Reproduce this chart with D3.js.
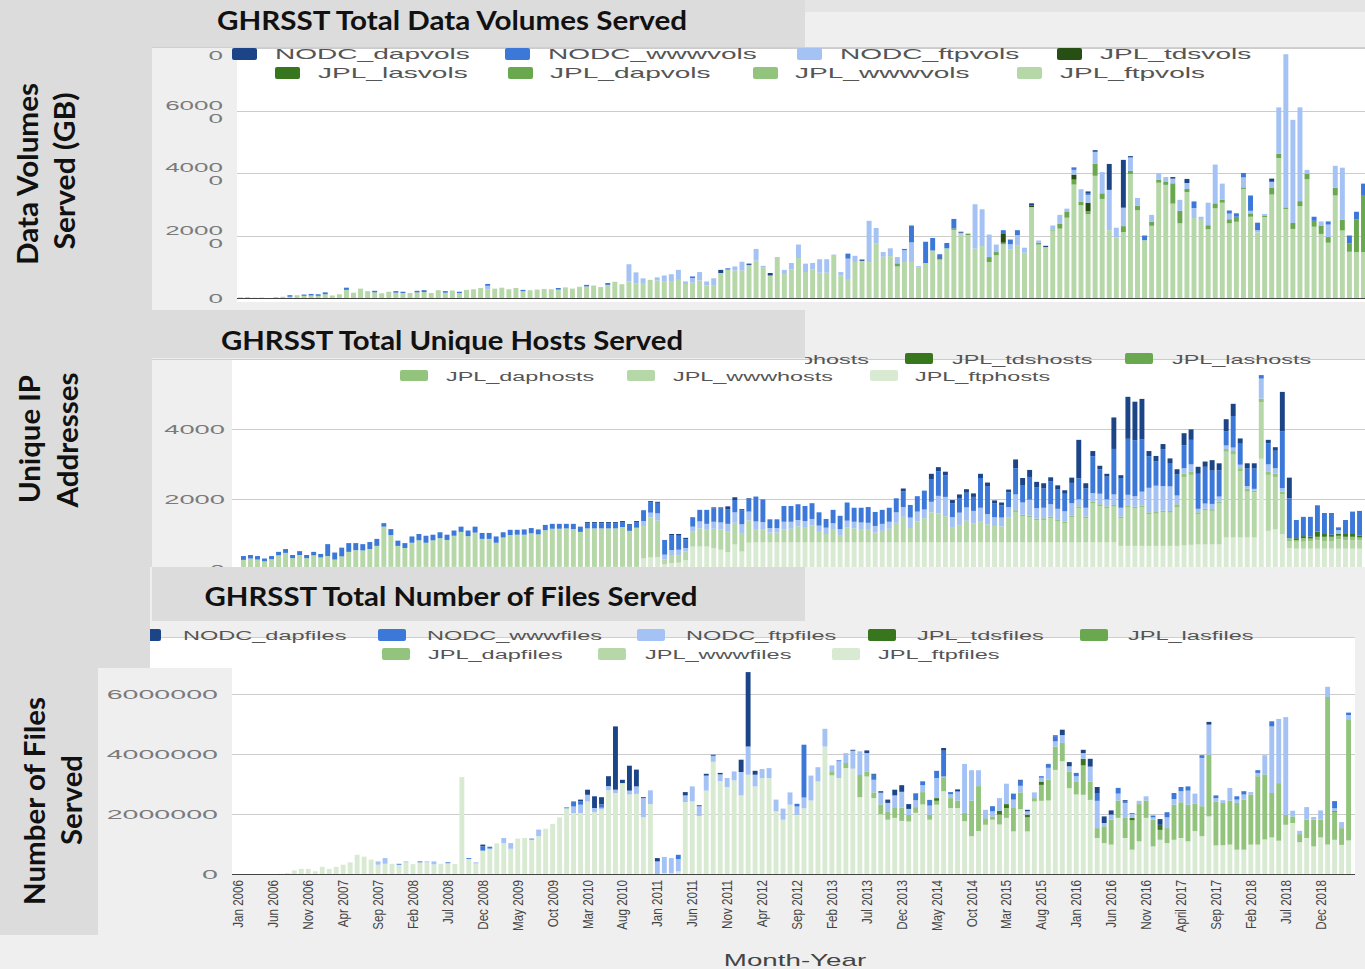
<!DOCTYPE html>
<html>
<head>
<meta charset="utf-8">
<script src="https://cdn.jsdelivr.net/npm/d3@7"></script>
<style>
  body { margin: 0; background: #efefef; }
  svg { display: block; }
  text { font-family: 'Liberation Sans', Arial, sans-serif; }
</style>
</head>
<body>
<svg id="chart" width="1365" height="969"></svg>
<script>
// ---------- categories ----------
const months = d3.timeMonths(new Date(2006, 0, 1), new Date(2019, 4, 1)); // Jan 2006 .. Apr 2019
const xTickLabels = ['Jan 2006', 'Jun 2006', 'Nov 2006', 'Apr 2007', 'Sep 2007', 'Feb 2008', 'Jul 2008',
  'Dec 2008', 'May 2009', 'Oct 2009', 'Mar 2010', 'Aug 2010', 'Jan 2011', 'Jun 2011', 'Nov 2011',
  'Apr 2012', 'Sep 2012', 'Feb 2013', 'Jul 2013', 'Dec 2013', 'May 2014', 'Oct 2014', 'Mar 2015',
  'Aug 2015', 'Jan 2016', 'Jun 2016', 'Nov 2016', 'April 2017', 'Sep 2017', 'Feb 2018', 'Jul 2018', 'Dec 2018'];

// ---------- data volumes (GB) ----------
const volJplFtp = [
  200, 300, 100, 150, 0, 300, 400, 400, 900, 700,
  800, 700, 1200, 800, 1200, 2600, 1700, 3000, 2200, 1800,
  1500, 2000, 1700, 1600, 1600, 1800, 1900, 1600, 2500, 1700,
  2400, 1600, 2600, 2800, 3200, 2700, 3000, 3300, 2800, 3200,
  2200, 2500, 2700, 2900, 2800, 2700, 3400, 3000, 3600, 3700,
  4000, 3500, 4200, 5200, 4400, 5300, 4700, 4800, 5800, 5600,
  5400, 5200, 5800, 4500, 4900,
  5600, 4000, 3900, 8000, 9100, 8800, 8800, 10200, 12000, 9900,
  7200, 13100, 7700, 9200, 12800, 8300, 9200, 8100, 8100, 13500,
  7300, 5800, 11500, 11900, 11500, 17400, 13200, 13400, 10100, 11500,
  11500, 9700, 11200, 15200, 12400, 15900, 21800, 20300, 20100, 15800,
  16600, 11500, 13700, 17200, 15500, 16900, 14500, 29100, 17100, 16300,
  21600, 22200, 25700, 36300, 29700, 26800, 39100, 31700, 21700, 19400,
  21100, 39700, 28100, 18500, 23100, 36900, 36200, 30200, 23900, 33900,
  25600, 25000, 22000, 28700, 30500, 23900, 24400, 34900, 26000, 21000,
  25900, 33100, 44800, 28500, 22100, 29400, 38000, 22800, 20500, 17700,
  32800, 21600, 14800, 14700, 14700];
const volJplDap = [
  0, 0, 0, 0, 0, 0, 0, 0, 0, 0, 0, 0, 0, 0, 0, 0, 0, 0, 0, 0,
  0, 0, 0, 0, 0, 0, 0, 0, 0, 0, 0, 0, 0, 0, 0, 0, 0, 0, 0, 0,
  0, 0, 0, 0, 0, 0, 0, 0, 0, 0, 0, 0, 0, 0, 0, 0, 0, 0, 0, 0,
  0, 0, 0, 0, 0,
  0, 0, 0, 0, 0, 0, 0, 0, 0, 0,
  0, 0, 0, 0, 0, 0, 0, 0, 0, 0,
  0, 0, 0, 0, 0, 0, 0, 0, 1000, 0,
  0, 0, 0, 0, 0, 0, 500, 0, 500, 0,
  0, 1600, 1000, 500, 0, 0, 0, 0, 600, 0,
  300, 1500, 2000, 1600, 1100, 1000, 3900, 1800, 0, 0,
  1900, 1000, 1400, 0, 1300, 900, 1100, 6500, 4000, 1000,
  0, 0, 1300, 1600, 900, 1300, 1600, 500, 1100, 0,
  500, 2100, 1400, 500, 1900, 1600, 1800, 1900, 2700, 1800,
  2500, 3400, 2600, 10400, 18000];
const volJplTds = [
  0, 0, 0, 0, 0, 0, 0, 0, 0, 0, 0, 0, 0, 0, 0, 0, 0, 0, 0, 0,
  0, 0, 0, 0, 0, 0, 0, 0, 0, 0, 0, 0, 0, 0, 0, 0, 0, 0, 0, 0,
  0, 0, 0, 0, 0, 0, 0, 0, 0, 0, 0, 0, 0, 0, 0, 0, 0, 0, 0, 0,
  0, 0, 0, 0, 0,
  0, 0, 0, 0, 0, 0, 0, 0, 0, 0,
  0, 0, 0, 0, 0, 0, 0, 0, 0, 0,
  0, 0, 0, 0, 0, 0, 0, 0, 0, 0,
  0, 0, 0, 0, 300, 0, 0, 0, 0, 0,
  0, 0, 0, 3000, 0, 0, 0, 500, 0, 0,
  0, 0, 0, 1600, 0, 2700, 0, 0, 0, 0,
  0, 0, 0, 0, 0, 0, 0, 0, 0, 0,
  0, 0, 0, 0, 0, 0, 0, 0, 0, 0,
  0, 0, 0, 0, 0, 0, 0, 0, 0, 0,
  0, 0, 0, 0, 0];
const volNodcFtp = [
  0, 0, 0, 0, 0, 0, 0, 0, 0, 0, 0, 0, 0, 0, 0, 0, 0, 0, 0, 0,
  0, 0, 0, 0, 0, 0, 0, 0, 0, 0, 0, 0, 0, 0, 0, 1200, 0, 0, 0, 0,
  0, 0, 0, 0, 0, 0, 0, 0, 0, 0, 0, 0, 0, 0, 0, 5500, 3500, 1500, 0, 1000,
  1800, 2400, 3200, 800, 1500,
  2700, 1300, 2400, 0, 0, 1300, 2800, 400, 3700, 400,
  0, 0, 1300, 2000, 4300, 2700, 2000, 4300, 4300, 400,
  1000, 6800, 2000, 0, 13200, 5000, 1500, 2500, 2000, 3800,
  6300, 500, 0, 0, 0, 0, 0, 600, 0, 14200,
  11800, 7200, 2400, 0, 1700, 3200, 1600, 0, 700, 0,
  1300, 2900, 900, 1500, 4000, 2500, 3800, 6800, 12900, 3100,
  5900, 4300, 2500, 0, 2200, 2200, 1400, 1500, 3500, 1900,
  3200, 1000, 7200, 12400, 5200, 1800, 0, 3200, 800, 700,
  500, 2000, 14800, 49000, 33000, 30000, 1200, 0, 1300, 4000,
  7000, 16700, 0, 0, 0];
const volNodcWww = [
  0, 0, 0, 0, 0, 0, 0, 500, 0, 400, 500, 500, 600, 0, 0, 700, 0, 0, 0, 500,
  0, 0, 500, 400, 0, 500, 600, 0, 0, 500, 0, 400, 0, 0, 0, 600, 0, 0, 0, 0,
  400, 0, 0, 0, 0, 500, 0, 0, 0, 500, 0, 0, 600, 0, 0, 0, 0, 0, 0, 0,
  0, 0, 0, 0, 500,
  0, 0, 0, 0, 400, 0, 0, 0, 0, 0,
  0, 0, 0, 0, 0, 0, 0, 0, 0, 0,
  0, 1600, 0, 0, 0, 0, 0, 0, 0, 400,
  5400, 0, 6800, 4000, 1300, 1700, 3000, 0, 0, 0,
  0, 0, 0, 1000, 1500, 1600, 0, 0, 0, 0,
  0, 0, 0, 800, 0, 600, 0, 0, 0, 0,
  0, 0, 0, 1500, 0, 0, 0, 0, 0, 0,
  2100, 0, 0, 0, 0, 1000, 1100, 1400, 4900, 2400,
  0, 0, 0, 0, 0, 0, 0, 1300, 0, 1000,
  0, 0, 2600, 2500, 3900];
const volNodcDap = [
  0, 0, 0, 0, 0, 0, 0, 0, 0, 0, 0, 0, 0, 0, 0, 0, 0, 0, 0, 0,
  0, 0, 0, 0, 0, 0, 0, 0, 0, 0, 0, 0, 0, 0, 0, 0, 0, 0, 0, 0,
  0, 0, 0, 0, 0, 0, 0, 0, 0, 0, 0, 0, 0, 0, 0, 0, 0, 0, 0, 0,
  0, 0, 0, 0, 0,
  0, 0, 0, 1000, 0, 0, 0, 400, 0, 0,
  800, 0, 0, 0, 0, 0, 0, 0, 0, 0,
  0, 0, 0, 400, 0, 0, 0, 0, 0, 0,
  0, 0, 0, 0, 0, 0, 0, 300, 0, 0,
  0, 0, 0, 0, 0, 0, 0, 700, 0, 400,
  0, 0, 0, 0, 0, 500, 500, 0, 8300, 0,
  15300, 400, 0, 0, 0, 0, 0, 500, 0, 1300,
  0, 0, 0, 0, 0, 0, 0, 0, 0, 0,
  0, 1000, 0, 0, 0, 0, 0, 0, 0, 0,
  0, 0, 0, 0, 0];
const volTicks = [0, 20000, 40000, 60000, 80000];

// ---------- unique hosts ----------
const hostJplFtp = [
  0, 0, 0, 0, 0, 0, 0, 0, 0, 0,
  0, 0, 0, 0, 0, 0, 0, 0, 0, 0,
  60, 60, 60, 60, 60, 60, 60, 60, 60, 60,
  60, 60, 60, 60, 60, 60, 60, 60, 60, 60,
  60, 60, 60, 60, 60, 60, 60, 60, 60, 60,
  60, 60, 60, 60, 60, 60, 60, 300, 330, 340,
  130, 170, 180, 250, 640, 640, 640, 600, 550, 480,
  700, 500, 750, 760, 760, 760, 760, 760, 760, 760,
  760, 760, 760, 760, 760, 760, 760, 760, 760, 760,
  760, 760, 760, 760, 760, 760, 760, 760, 760, 760,
  760, 760, 760, 760, 760, 760, 760, 760, 760, 760,
  760, 760, 760, 760, 760, 760, 760, 760, 760, 760,
  760, 760, 760, 760, 760, 660, 660, 660, 660, 660,
  660, 660, 660, 660, 670, 690, 700, 700, 700, 700,
  900, 900, 900, 900, 900, 3150, 1090, 1130, 1000, 600,
  580, 580, 580, 580, 580, 580, 580, 580, 580, 580];
const hostJplWww = [
  260, 300, 270, 220, 280, 390, 460, 310, 400, 310,
  390, 330, 370, 270, 360, 490, 540, 530, 570, 660,
  1150, 910, 600, 540, 690, 760, 690, 760, 820, 770,
  890, 1000, 880, 980, 800, 800, 690, 840, 910, 920,
  920, 960, 930, 1050, 1090, 1090, 1100, 1080, 1000, 1100,
  1100, 1100, 1100, 1100, 1140, 1030, 1120, 930, 1140, 1050,
  140, 230, 200, 250, 440, 520, 500, 550, 580, 600,
  620, 530, 640, 380, 380, 280, 280, 370, 390, 460,
  440, 480, 300, 240, 360, 190, 420, 400, 380, 360,
  280, 330, 390, 560, 730, 410, 600, 690, 860, 830,
  750, 440, 500, 620, 550, 590, 510, 470, 460, 710,
  870, 740, 720, 630, 640, 690, 610, 540, 720, 980,
  690, 1110, 1040, 980, 1020, 790, 1110, 1070, 1100, 910,
  920, 960, 950, 1110, 1960, 2000, 870, 970, 960, 1170,
  2450, 2370, 1900, 1310, 1290, 1620, 1600, 1500, 1130, 200,
  200, 200, 210, 240, 220, 220, 270, 240, 240, 240];
const hostJplDap = [
  0, 0, 0, 0, 0, 0, 0, 0, 0, 0, 0, 0, 0, 0, 0, 0, 0, 0, 0, 0,
  0, 0, 0, 0, 0, 0, 0, 0, 0, 0, 0, 0, 0, 0, 0, 0, 0, 0, 0, 0,
  0, 0, 0, 0, 0, 0, 0, 0, 0, 0, 0, 0, 0, 0, 0, 0, 0, 0, 0, 0,
  0, 0, 0, 0, 0, 0, 0, 0, 0, 0, 0, 0, 0, 0, 0, 0, 0, 0, 0, 0,
  0, 0, 0, 0, 0, 0, 0, 0, 0, 0, 0, 0, 0, 0, 0, 0, 0, 0, 0, 0,
  0, 0, 0, 0, 0, 0, 0, 0, 0, 0,
  50, 50, 50, 50, 50, 50, 50, 50, 50, 50,
  50, 50, 50, 50, 50, 50, 50, 50, 50, 50,
  50, 50, 50, 80, 100, 100, 50, 50, 50, 50,
  80, 100, 80, 80, 50, 100, 100, 100, 80, 80,
  50, 100, 80, 100, 120, 120, 100, 100, 100, 80];
const hostJplTds = [
  0, 0, 0, 0, 0, 0, 0, 0, 0, 0, 0, 0, 0, 0, 0, 0, 0, 0, 0, 0,
  0, 0, 0, 0, 0, 0, 0, 0, 0, 0, 0, 0, 0, 0, 0, 0, 0, 0, 0, 0,
  0, 0, 0, 0, 0, 0, 0, 0, 0, 0, 0, 0, 0, 0, 0, 0, 0, 0, 0, 0,
  0, 0, 0, 0, 0, 0, 0, 0, 0, 0, 0, 0, 0, 0, 0, 0, 0, 0, 0, 0,
  0, 0, 0, 0, 0, 0, 0, 0, 0, 0, 0, 0, 0, 0, 0, 0, 0, 0, 0, 0,
  0, 0, 0, 0, 0, 0, 0, 0, 0, 0, 0, 0, 0, 0, 0, 0, 0, 0, 0, 0,
  0, 0, 0, 0, 0, 0, 0, 0, 0, 0, 0, 0, 0, 0, 0, 0, 0, 0, 0, 0,
  0, 0, 0, 0, 0, 0, 0, 0, 0, 0,
  50, 60, 60, 150, 80, 60, 60, 80, 80, 60];
const hostNodcFtp = [
  0, 0, 0, 0, 0, 0, 0, 0, 0, 0, 0, 0, 0, 0, 0, 0, 0, 0, 0, 0,
  0, 0, 0, 0, 0, 0, 0, 0, 0, 0, 0, 0, 0, 0, 0, 0, 0, 0, 0, 0,
  0, 0, 0, 0, 0, 0, 0, 0, 0, 0,
  0, 0, 0, 0, 0, 0, 0, 140, 140, 200,
  140, 140, 170, 100, 130, 200, 150, 200, 200, 210,
  300, 250, 250, 220, 200, 130, 130, 220, 200, 180,
  170, 190, 180, 180, 190, 190, 200, 190, 190, 200,
  190, 200, 200, 300, 280, 300, 280, 250, 300, 500,
  550, 280, 350, 380, 350, 400, 300, 250, 250, 300,
  450, 350, 450, 300, 300, 350, 300, 300, 350, 200,
  250, 250, 300, 200, 300, 250, 300, 300, 400, 700,
  750, 700, 700, 250, 150, 200, 100, 150, 150, 150,
  100, 100, 100, 80, 50, 570, 200, 150, 100, 0,
  0, 0, 0, 0, 0, 0, 100, 0, 0, 0];
const hostNodcWww = [
  110, 100, 100, 80, 90, 100, 110, 90, 110, 90,
  100, 100, 340, 200, 250, 250, 200, 180, 200, 200,
  100, 170, 150, 140, 180, 180, 200, 160, 170, 150,
  150, 150, 160, 170, 170, 170, 180, 150, 150, 140,
  150, 150, 140, 150, 140, 140, 130, 150, 150, 140,
  140, 140, 140, 150, 140, 150, 160, 310, 300, 300,
  420, 430, 400, 250, 270, 330, 400, 380, 400, 420,
  350, 400, 350, 710, 650, 250, 250, 450, 450, 450,
  430, 450, 380, 250, 380, 380, 520, 400, 420, 450,
  400, 400, 400, 400, 450, 360, 440, 540, 650, 700,
  620, 400, 420, 420, 400, 850, 800, 400, 350, 420,
  750, 500, 650, 600, 550, 650, 550, 500, 580, 600,
  550, 1050, 700, 650, 1300, 850, 1600, 1600, 1500, 900,
  700, 1050, 650, 600, 650, 700, 1000, 1050, 950, 750,
  400, 900, 600, 500, 580, 100, 600, 500, 1620, 1140,
  520, 550, 560, 750, 600, 620, 80, 400, 640, 700];
const hostNodcDap = [
  0, 0, 0, 0, 0, 0, 0, 0, 0, 0, 0, 0, 0, 0, 0, 0, 0, 0, 0, 0,
  0, 0, 0, 0, 0, 0, 0, 0, 0, 0, 0, 0, 0, 0, 0, 0, 0, 0, 0, 0,
  0, 0, 0, 0, 0, 0, 0, 0, 0, 40,
  40, 40, 40, 30, 30, 40, 30, 0, 30, 30,
  0, 30, 50, 40, 0, 0, 0, 30, 30, 80,
  80, 30, 30, 0, 0, 0, 0, 0, 0, 0,
  0, 0, 0, 0, 0, 0, 0, 0, 0, 0,
  0, 0, 0, 0, 80, 0, 0, 0, 150, 120,
  100, 90, 100, 100, 100, 120, 100, 80, 80, 80,
  250, 200, 200, 150, 150, 120, 120, 100, 150, 1100,
  150, 150, 100, 80, 900, 80, 1200, 1100, 1150, 150,
  150, 150, 150, 150, 350, 300, 200, 150, 300, 200,
  350, 350, 150, 150, 150, 0, 100, 100, 1130, 590,
  0, 0, 0, 0, 0, 0, 0, 0, 0, 0];
const hostTicks = [0, 2000, 4000, 6000];

// ---------- number of files (thousands) ----------
const fileJplFtp = [
  0, 0, 0, 0, 0, 0, 10, 30, 120, 170,
  170, 90, 240, 170, 240, 310, 390, 640, 580, 480,
  310, 340, 340, 310, 390, 330, 390, 390, 320, 340,
  360, 330, 3230, 500, 350, 780, 820, 1020, 1030, 840,
  1180, 1200, 1150, 1260, 1510, 1670, 1890, 2190, 2030, 2030,
  2420, 2060, 2150, 2790, 2700, 3030, 2650, 2670, 1890, 2330,
  0, 30, 30, 90, 2400, 2420, 1930, 2780, 3740, 3100,
  2900, 3120, 2620, 3310, 2920, 3200, 3200, 2090, 1810, 2310,
  1970, 2190, 2450, 3090, 4250, 3290, 3200, 3530, 3510, 2560,
  3250, 2530, 1990, 1810, 1870, 1770, 1750, 2040, 2320, 1810,
  2310, 2760, 2200, 2200, 1760, 1260, 1430, 1640, 1810, 1650,
  1870, 1420, 2160, 1420, 2420, 2440, 2450, 3470, 3760, 2860,
  2650, 2640, 2470, 1200, 1030, 980, 1870, 1200, 810, 1090,
  1870, 920, 1140, 1030, 1140, 1200, 1090, 1430, 1260, 1920,
  950, 960, 980, 810, 810, 980, 980, 1150, 1220, 1110,
  1640, 1700, 1060, 1200, 920, 1220, 980, 1140, 970, 1120];
const fileJplDap = [
  0, 0, 0, 0, 0, 0, 0, 0, 0, 0, 0, 0, 0, 0, 0, 0, 0, 0, 0, 0,
  0, 0, 0, 0, 0, 0, 0, 0, 0, 0, 0, 0, 0, 0, 0, 0, 0, 0, 0, 0,
  0, 0, 0, 0, 0, 0, 0, 0, 0, 0, 0, 0, 0, 0, 0, 0, 0, 0, 0, 0,
  0, 0, 0, 0, 0, 0, 0, 0, 0, 0, 0, 0, 0, 0, 0, 0, 0, 0, 0, 0,
  0, 0, 0, 0, 0, 110, 0, 170, 0, 740,
  170, 190, 330, 280, 330, 440, 220, 190, 410, 170,
  130, 440, 330, 250, 280, 1190, 1500, 220, 110, 330,
  330, 780, 560, 470, 110, 530, 700, 780, 610, 560,
  440, 980, 610, 330, 560, 830, 580, 670, 980, 1240,
  580, 890, 330, 500, 1170, 1190, 1220, 910, 1000, 2060,
  1470, 1410, 1470, 1560, 1670, 1670, 2280, 2170, 1480, 1920,
  330, 220, 270, 610, 890, 590, 4920, 940, 560, 4040];
const fileJplTds = [
  0, 0, 0, 0, 0, 0, 0, 0, 0, 0, 0, 0, 0, 0, 0, 0, 0, 0, 0, 0,
  0, 0, 0, 0, 0, 0, 0, 0, 0, 0, 0, 0, 0, 0, 0, 0, 0, 0, 0, 0,
  0, 0, 0, 0, 0, 0, 0, 0, 0, 0, 0, 0, 0, 0, 0, 0, 0, 0, 0, 0,
  0, 0, 0, 0, 0, 0, 0, 0, 0, 0, 0, 0, 0, 0, 0, 0, 0, 0, 0, 0,
  0, 0, 0, 0, 0, 0, 0, 0, 0, 0, 0, 0, 0, 0, 0, 0, 0, 0, 0, 0,
  90, 0, 0, 0, 0, 0, 0, 0, 0, 130,
  130, 0, 0, 90, 0, 110, 0, 0, 0, 0,
  0, 220, 0, 0, 0, 0, 0, 0, 80, 0,
  0, 0, 170, 0, 0, 0, 0, 0, 0, 0,
  0, 0, 0, 0, 0, 0, 0, 0, 0, 0,
  0, 0, 0, 0, 0, 0, 0, 30, 0, 0];
const fileNodcFtp = [
  0, 0, 0, 0, 0, 0, 0, 0, 0, 0, 0, 0, 0, 0, 0, 0, 0, 0, 0, 0,
  110, 190, 0, 0, 30, 0, 0, 30, 100, 0,
  0, 0, 0, 0, 40, 0, 30, 0, 170, 190,
  0, 0, 0, 220, 0, 0, 0, 0, 220, 280,
  220, 140, 60, 140, 110, 0, 130, 250, 640, 460,
  420, 540, 500, 410, 220, 500, 330, 500, 190, 220,
  300, 300, 780, 940, 390, 300, 330, 390, 370, 410,
  280, 360, 830, 470, 590, 220, 560, 330, 600, 790,
  610, 420, 390, 280, 420, 530, 200, 230, 230, 300,
  670, 50, 130, 300, 1630, 1010, 530, 280, 170, 420,
  680, 280, 220, 110, 190, 130, 390, 170, 260, 170,
  170, 190, 500, 910, 110, 170, 230, 500, 130, 110,
  140, 80, 0, 360, 190, 370, 470, 340, 1610, 1000,
  110, 90, 420, 110, 170, 80, 110, 640, 2220, 2140,
  3260, 190, 110, 420, 90, 310, 340, 80, 200, 140];
const fileNodcWww = [
  0, 0, 0, 0, 0, 0, 0, 0, 0, 0, 0, 0, 0, 0, 0, 0, 0, 0, 0, 0,
  0, 0, 0, 30, 0, 0, 30, 0, 0, 0,
  30, 0, 0, 30, 0, 140, 60, 0, 0, 0,
  0, 0, 30, 0, 0, 0, 0, 30, 170, 110,
  0, 0, 110, 0, 0, 0, 0, 0, 0, 0,
  0, 0, 0, 140, 0, 0, 0, 0, 50, 0,
  0, 0, 0, 0, 0, 0, 0, 0, 0, 0,
  90, 1760, 0, 0, 0, 0, 30, 0, 0, 0,
  0, 170, 0, 0, 0, 0, 0, 230, 130, 190,
  240, 860, 70, 0, 0, 0, 0, 0, 170, 0,
  0, 200, 170, 0, 0, 50, 110, 170, 0, 0,
  110, 0, 0, 260, 0, 0, 190, 60, 30, 0,
  0, 60, 0, 170, 200, 140, 140, 0, 90, 0,
  90, 0, 0, 110, 110, 0, 90, 0, 170, 0,
  0, 0, 0, 0, 0, 0, 0, 240, 0, 80];
const fileNodcDap = [
  0, 0, 0, 0, 0, 0, 0, 0, 0, 0, 0, 0, 0, 0, 0, 0, 0, 0, 0, 0,
  0, 0, 0, 0, 0, 0, 0, 0, 0, 0,
  0, 0, 0, 0, 0, 60, 0, 0, 0, 0,
  0, 0, 0, 0, 0, 0, 0, 0, 0, 60,
  170, 390, 240, 330, 2110, 110, 830, 560, 30, 0,
  110, 0, 0, 0, 110, 0, 30, 60, 0, 50,
  0, 0, 410, 2480, 130, 0, 0, 0, 0, 0,
  0, 0, 0, 0, 0, 0, 0, 0, 30, 0,
  90, 30, 50, 110, 190, 220, 160, 0, 0, 0,
  0, 90, 0, 70, 0, 0, 0, 0, 0, 0,
  0, 0, 30, 50, 0, 0, 20, 30, 180, 140,
  0, 110, 260, 200, 220, 140, 0, 30, 0, 0,
  0, 0, 190, 0, 0, 0, 0, 0, 0, 90,
  0, 0, 0, 0, 0, 0, 0, 0, 0, 0,
  0, 0, 0, 0, 0, 0, 0, 0, 0, 0];
const fileUnit = 1000;
const fileTicks = [0, 2000000, 4000000, 6000000];

// ---------- series colours (stack order: bottom -> top) ----------
const volColors = {
  JPL_ftpvols: '#b6d7a8', JPL_wwwvols: '#93c47d', JPL_dapvols: '#6aa84f', JPL_lasvols: '#38761d',
  JPL_tdsvols: '#274e13', NODC_ftpvols: '#a4c2f4', NODC_wwwvols: '#3c78d8', NODC_dapvols: '#1c4587'
};
const hostColors = {
  JPL_ftphosts: '#d9ead3', JPL_wwwhosts: '#b6d7a8', JPL_daphosts: '#93c47d', JPL_lashosts: '#6aa84f',
  JPL_tdshosts: '#38761d', NODC_ftphosts: '#a4c2f4', NODC_wwwhosts: '#3c78d8', NODC_daphosts: '#1c4587'
};
const fileColors = {
  JPL_ftpfiles: '#d9ead3', JPL_wwwfiles: '#b6d7a8', JPL_dapfiles: '#93c47d', JPL_lasfiles: '#6aa84f',
  JPL_tdsfiles: '#38761d', NODC_ftpfiles: '#a4c2f4', NODC_wwwfiles: '#3c78d8', NODC_dapfiles: '#1c4587'
};

const svg = d3.select('#chart');
const GREY = '#efefef';
const STRIP = '#dcdcdc';

// only the part of the hosts legend's first row right of the title box shows
svg.append('clipPath').attr('id', 'rowClip').append('rect')
  .attr('x', 805).attr('y', 300).attr('width', 560).attr('height', 100);

function stretch(sel, k) {
  sel.each(function () {
    const w = this.getComputedTextLength();
    d3.select(this).attr('textLength', w * k).attr('lengthAdjust', 'spacingAndGlyphs');
  });
}

function drawPanel(p) {
  const g = svg.append('g');
  // panel background + white plot
  g.append('rect').attr('x', 0).attr('y', p.top).attr('width', 1365).attr('height', p.bottom - p.top).attr('fill', GREY);
  p.whites.forEach(r => g.append('rect').attr('x', r[0]).attr('y', r[1]).attr('width', r[2] - r[0]).attr('height', r[3] - r[1]).attr('fill', '#fff'));
  g.append('line').attr('x1', p.border[0]).attr('x2', p.border[1]).attr('y1', p.border[2]).attr('y2', p.border[2])
    .attr('stroke', '#cfcfcf');

  const x = d3.scaleBand().domain(d3.range(months.length)).range(p.xRange).paddingInner(0.3);
  const y = d3.scaleLinear().domain(p.yDomain).range(p.yRange);

  // grid
  g.selectAll('line.grid').data(p.ticks.filter(t => t > 0)).join('line')
    .attr('x1', p.plotX[0]).attr('x2', p.plotX[1])
    .attr('y1', d => Math.round(y(d)) + 0.5).attr('y2', d => Math.round(y(d)) + 0.5)
    .attr('stroke', '#cccccc');

  // stacked bars
  const rows = months.map((m, i) => {
    const r = {};
    p.keys.forEach(k => { r[k] = p.series[k] ? (p.series[k][i] || 0) * (p.unit || 1) : 0; });
    return r;
  });
  const stacked = d3.stack().keys(p.keys)(rows);
  g.append('g').selectAll('g').data(stacked).join('g').attr('fill', d => p.colors[d.key])
    .selectAll('rect').data(d => d).join('rect')
    .attr('x', (d, i) => x(i)).attr('width', x.bandwidth())
    .attr('y', d => y(d[1])).attr('height', d => Math.max(0, y(d[0]) - y(d[1])));

  // baseline
  g.append('line').attr('x1', p.plotX[0]).attr('x2', p.plotX[1])
    .attr('y1', y(0) + 0.5).attr('y2', y(0) + 0.5).attr('stroke', '#444').attr('stroke-width', 1.2);

  // y tick labels
  p.labelTicks.forEach(t => {
    const s = String(t);
    const lines = p.split && s.length > 4 ? [s.slice(0, 4), s.slice(4)] : [s];
    lines.forEach((ln, li) => {
      const dy = lines.length === 1 ? 5 : (li === 0 ? -1 : 12);
      g.append('text').attr('x', p.tickX).attr('y', y(t) + dy).attr('text-anchor', 'end')
        .attr('font-size', 13).attr('fill', '#7a7a7a').text(ln).call(stretch, p.tickStretch);
    });
  });

  // legend
  p.legend.forEach(it => {
    const lg = g.append('g');
    if (it[4]) lg.attr('clip-path', 'url(#rowClip)');
    lg.append('rect').attr('x', it[1]).attr('y', it[3] - 6).attr('width', p.swatch[0]).attr('height', p.swatch[1])
      .attr('rx', 2).attr('fill', p.colors[it[0]]);
    lg.append('text').attr('x', it[2]).attr('y', it[3] + 5).attr('font-size', p.legendSize).attr('fill', '#555')
      .text(it[0]).call(stretch, p.legendStretch);
  });
  return { x, y, g };
}

// ---------- panel 1: data volumes ----------
drawPanel({
  top: 0, bottom: 310,
  whites: [[237, 48, 1365, 302]],
  border: [152, 1365, 47.5],
  xRange: [238, 1366], plotX: [237, 1365],
  yDomain: [0, 80000], yRange: [298, 48],
  ticks: volTicks, labelTicks: volTicks, split: true, tickX: 223, tickStretch: 2.0,
  keys: Object.keys(volColors), colors: volColors,
  series: {
    JPL_ftpvols: volJplFtp, JPL_dapvols: volJplDap, JPL_tdsvols: volJplTds,
    NODC_ftpvols: volNodcFtp, NODC_wwwvols: volNodcWww, NODC_dapvols: volNodcDap
  },
  swatch: [25, 12], legendSize: 15, legendStretch: 1.87,
  legend: [
    ['NODC_dapvols', 232, 275, 54], ['NODC_wwwvols', 505, 548, 54], ['NODC_ftpvols', 797, 840, 54], ['JPL_tdsvols', 1057, 1100, 54],
    ['JPL_lasvols', 275, 318, 73], ['JPL_dapvols', 508, 550, 73], ['JPL_wwwvols', 753, 795, 73], ['JPL_ftpvols', 1017, 1060, 73]
  ]
});

// ---------- panel 2: unique hosts ----------
drawPanel({
  top: 310, bottom: 567,
  whites: [[232, 359, 1365, 567]],
  border: [152, 1365, 359.5],
  xRange: [241, 1362], plotX: [232, 1365],
  yDomain: [0, 6000], yRange: [569, 359],
  ticks: hostTicks, labelTicks: [0, 2000, 4000], split: false, tickX: 225, tickStretch: 2.1,
  keys: Object.keys(hostColors), colors: hostColors,
  series: {
    JPL_ftphosts: hostJplFtp, JPL_wwwhosts: hostJplWww, JPL_daphosts: hostJplDap, JPL_tdshosts: hostJplTds,
    NODC_ftphosts: hostNodcFtp, NODC_wwwhosts: hostNodcWww, NODC_daphosts: hostNodcDap
  },
  swatch: [28, 11], legendSize: 12, legendStretch: 1.95,
  legend: [
    ['NODC_ftphosts', 659, 705, 359, true],
    ['JPL_tdshosts', 905, 952, 359], ['JPL_lashosts', 1125, 1172, 359],
    ['JPL_daphosts', 400, 446, 376], ['JPL_wwwhosts', 627, 673, 376], ['JPL_ftphosts', 870, 915, 376]
  ]
});

// ---------- panel 3: number of files ----------
const p3 = drawPanel({
  top: 567, bottom: 969,
  whites: [[150, 637, 1355, 668], [232, 668, 1355, 875]],
  border: [150, 1355, 637.5],
  xRange: [236, 1351], plotX: [232, 1355],
  yDomain: [0, 6000000], yRange: [874, 694],
  ticks: fileTicks, labelTicks: fileTicks, split: false, tickX: 218, tickStretch: 2.2, unit: fileUnit,
  keys: Object.keys(fileColors), colors: fileColors,
  series: {
    JPL_ftpfiles: fileJplFtp, JPL_dapfiles: fileJplDap, JPL_tdsfiles: fileJplTds,
    NODC_ftpfiles: fileNodcFtp, NODC_wwwfiles: fileNodcWww, NODC_dapfiles: fileNodcDap
  },
  swatch: [28, 12], legendSize: 12, legendStretch: 1.96,
  legend: [
    ['NODC_dapfiles', 133, 183, 635], ['NODC_wwwfiles', 378, 427, 635], ['NODC_ftpfiles', 637, 686, 635],
    ['JPL_tdsfiles', 868, 917, 635], ['JPL_lasfiles', 1080, 1128, 635],
    ['JPL_dapfiles', 382, 428, 654], ['JPL_wwwfiles', 598, 645, 654], ['JPL_ftpfiles', 832, 878, 654]
  ]
});

// month labels (every 5th month)
xTickLabels.forEach((lab, j) => {
  const cx = p3.x(j * 5) + p3.x.bandwidth() / 2;
  svg.append('text').attr('transform', `translate(${cx + 5},880) rotate(-90)`).attr('text-anchor', 'end')
    .attr('font-size', 14).attr('fill', '#444').text(lab).call(stretch, 0.83);
});
svg.append('text').attr('x', 795).attr('y', 966).attr('text-anchor', 'middle').attr('font-size', 17)
  .attr('fill', '#444').text('Month-Year').call(stretch, 1.63);

// ---------- frames: left strips and title boxes ----------
svg.append('rect').attr('x', 0).attr('y', 0).attr('width', 152).attr('height', 567).attr('fill', STRIP);
svg.append('rect').attr('x', 0).attr('y', 567).attr('width', 150).attr('height', 101).attr('fill', STRIP);
svg.append('rect').attr('x', 0).attr('y', 668).attr('width', 98).attr('height', 267).attr('fill', STRIP);
svg.append('rect').attr('x', 805).attr('y', 0).attr('width', 560).attr('height', 12).attr('fill', '#e4e4e4');
[[0, 0, 805, 47], [152, 310, 805, 358], [152, 567, 805, 621]].forEach(b => {
  svg.append('rect').attr('x', b[0]).attr('y', b[1]).attr('width', b[2] - b[0]).attr('height', b[3] - b[1]).attr('fill', STRIP);
});

const titles = [
  ['GHRSST Total Data Volumes Served', 452, 30, 470],
  ['GHRSST Total Unique Hosts Served', 452, 350, 462],
  ['GHRSST Total Number of Files Served', 451, 606, 493]
];
titles.forEach(t => {
  svg.append('text').attr('x', t[1]).attr('y', t[2]).attr('text-anchor', 'middle')
    .style('font-family', 'Lato, "Open Sans", sans-serif').attr('font-weight', 700).attr('font-size', 27)
    .attr('fill', '#111').attr('textLength', t[3]).attr('lengthAdjust', 'spacingAndGlyphs').text(t[0]);
});

const axisTitles = [
  ['Data Volumes', 28, 174, 182], ['Served (GB)', 65, 171, 157],
  ['Unique IP', 30, 439, 128], ['Addresses', 68, 440, 135],
  ['Number of Files', 35, 801, 208], ['Served', 72, 800, 90]
];
axisTitles.forEach(t => {
  svg.append('text').attr('transform', `translate(${t[1] + 10},${t[2]}) rotate(-90)`).attr('text-anchor', 'middle')
    .style('font-family', 'Lato, "Open Sans", sans-serif').attr('font-weight', 700).attr('font-size', 28)
    .attr('fill', '#111').attr('textLength', t[3]).attr('lengthAdjust', 'spacingAndGlyphs').text(t[0]);
});
</script>
</body>
</html>
